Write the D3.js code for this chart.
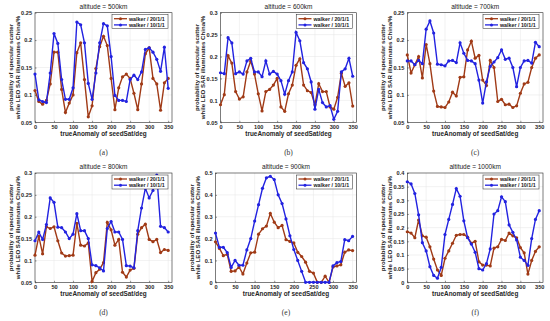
<!DOCTYPE html>
<html><head><meta charset="utf-8">
<script src="https://cdn.jsdelivr.net/npm/d3@7/dist/d3.min.js"></script>
<style>body{margin:0;background:#fff}svg{display:block}</style>
</head><body><svg id="c" width="550" height="321"></svg>
<script>
const trueAnomaly = [0,10,20,30,40,50,60,70,80,90,100,110,120,130,140,150,160,170,180,190,200,210,220,230,240,250,260,270,280,290,300,310,320,330,340,350];
const xTicks = [0,50,100,150,200,250,300,350];
const altitudes = ["500km","600km","700km","800km","900km","1000km"];
const panelLabels = ["(a)","(b)","(c)","(d)","(e)","(f)"];
const seriesNames = ["walker / 20/1/1","walker / 10/1/1"];

const w20_500 = [0.108,0.088,0.083,0.090,0.120,0.178,0.178,0.110,0.068,0.085,0.100,0.177,0.195,0.128,0.060,0.080,0.148,0.188,0.207,0.190,0.130,0.073,0.113,0.133,0.138,0.130,0.103,0.073,0.120,0.175,0.186,0.130,0.120,0.072,0.122,0.130];
const w10_500 = [0.138,0.091,0.088,0.086,0.140,0.212,0.194,0.128,0.092,0.092,0.113,0.233,0.228,0.195,0.121,0.092,0.140,0.195,0.230,0.226,0.170,0.099,0.090,0.090,0.088,0.128,0.136,0.128,0.142,0.183,0.186,0.178,0.165,0.143,0.187,0.112];

const w20_600 = [0.090,0.113,0.202,0.185,0.120,0.103,0.108,0.165,0.190,0.160,0.115,0.076,0.120,0.125,0.135,0.150,0.085,0.075,0.115,0.135,0.180,0.195,0.135,0.122,0.118,0.090,0.138,0.120,0.120,0.085,0.080,0.107,0.162,0.132,0.140,0.087];
const w10_600 = [0.163,0.161,0.243,0.231,0.161,0.165,0.160,0.190,0.196,0.165,0.165,0.154,0.190,0.160,0.166,0.160,0.145,0.114,0.145,0.165,0.255,0.236,0.186,0.172,0.142,0.080,0.125,0.095,0.085,0.088,0.057,0.075,0.165,0.172,0.196,0.155];

const w20_700 = [0.173,0.140,0.155,0.170,0.131,0.192,0.157,0.107,0.079,0.078,0.077,0.087,0.105,0.098,0.132,0.133,0.182,0.198,0.167,0.172,0.127,0.117,0.163,0.150,0.088,0.092,0.082,0.083,0.077,0.080,0.103,0.120,0.123,0.150,0.167,0.173];
const w10_700 = [0.162,0.162,0.155,0.163,0.157,0.220,0.235,0.213,0.156,0.155,0.153,0.162,0.163,0.159,0.195,0.176,0.163,0.162,0.157,0.127,0.085,0.124,0.152,0.160,0.168,0.182,0.165,0.167,0.150,0.115,0.150,0.162,0.163,0.158,0.196,0.188];

const w20_800 = [0.112,0.155,0.115,0.177,0.173,0.177,0.145,0.117,0.110,0.111,0.112,0.185,0.135,0.133,0.140,0.052,0.072,0.080,0.095,0.187,0.170,0.135,0.148,0.073,0.062,0.078,0.082,0.160,0.175,0.183,0.148,0.143,0.148,0.118,0.125,0.123];
const w10_800 = [0.145,0.165,0.148,0.182,0.243,0.233,0.176,0.175,0.165,0.150,0.160,0.207,0.168,0.168,0.150,0.090,0.088,0.083,0.076,0.173,0.189,0.165,0.165,0.148,0.088,0.087,0.083,0.168,0.220,0.265,0.243,0.260,0.295,0.178,0.175,0.165];

const w20_900 = [0.185,0.155,0.122,0.128,0.050,0.052,0.070,0.038,0.088,0.135,0.138,0.220,0.245,0.257,0.315,0.275,0.250,0.260,0.195,0.187,0.180,0.137,0.118,0.092,0.050,0.042,0.000,0.000,0.028,0.000,0.070,0.075,0.080,0.138,0.148,0.145];
const w10_900 = [0.225,0.160,0.160,0.136,0.068,0.100,0.078,0.078,0.148,0.200,0.280,0.355,0.430,0.478,0.485,0.470,0.400,0.360,0.290,0.213,0.150,0.100,0.050,0.000,0.000,0.000,0.000,0.000,0.000,0.000,0.075,0.090,0.095,0.195,0.190,0.210];

const w20_1000 = [0.185,0.180,0.163,0.228,0.170,0.165,0.130,0.085,0.045,0.025,0.088,0.115,0.143,0.172,0.175,0.175,0.165,0.143,0.150,0.075,0.063,0.063,0.060,0.125,0.130,0.157,0.153,0.180,0.170,0.163,0.127,0.108,0.030,0.080,0.113,0.130];
const w10_1000 = [0.368,0.360,0.325,0.247,0.145,0.115,0.057,0.025,0.015,0.055,0.175,0.230,0.285,0.343,0.315,0.225,0.163,0.140,0.110,0.050,0.045,0.068,0.122,0.250,0.262,0.313,0.295,0.210,0.183,0.155,0.092,0.080,0.062,0.160,0.230,0.262];

const yTicks500 = [0.05,0.1,0.15,0.2,0.25];
const yTicks600 = [0.05,0.1,0.15,0.2,0.25,0.3];
const yTicks700 = [0.05,0.1,0.15,0.2,0.25];
const yTicks800 = [0.05,0.1,0.15,0.2,0.25,0.3];
const yTicks900 = [0,0.1,0.2,0.3,0.4,0.5];
const yTicks1000 = [0,0.05,0.1,0.15,0.2,0.25,0.3,0.35,0.4];

const series20 = [w20_500,w20_600,w20_700,w20_800,w20_900,w20_1000];
const series10 = [w10_500,w10_600,w10_700,w10_800,w10_900,w10_1000];
const yTicksAll = [yTicks500,yTicks600,yTicks700,yTicks800,yTicks900,yTicks1000];

const boxes = [
  {l:35, r:172, t:12.7, b:122.3},
  {l:220.5, r:356.5, t:12.7, b:122.3},
  {l:407.3, r:543, t:12.7, b:122.3},
  {l:35, r:172, t:173, b:282.3},
  {l:215.5, r:356.5, t:173, b:282.3},
  {l:407.3, r:543, t:173, b:282.3}
];
const colBrown = "#a03a16";
const colBlue = "#2222e0";
const axisCol = "#262626";
const sans = "'Liberation Sans', Arial, sans-serif";

const svg = d3.select("#c");
svg.append("rect").attr("width",550).attr("height",321).attr("fill","#fff");

boxes.forEach((bx,i)=>{
  const g = svg.append("g");
  const ticks = yTicksAll[i];
  const x = d3.scaleLinear().domain([0,360]).range([bx.l,bx.r]);
  const y = d3.scaleLinear().domain([ticks[0],ticks[ticks.length-1]]).range([bx.b,bx.t]);
  g.append("g").selectAll("line").data(xTicks.slice(1)).join("line")
    .attr("x1",d=>x(d)).attr("x2",d=>x(d)).attr("y1",bx.t).attr("y2",bx.b)
    .attr("stroke","#e4e4e4").attr("stroke-width",0.5);
  g.append("g").selectAll("line").data(ticks.slice(1,-1)).join("line")
    .attr("y1",d=>y(d)).attr("y2",d=>y(d)).attr("x1",bx.l).attr("x2",bx.r)
    .attr("stroke","#e4e4e4").attr("stroke-width",0.5);
  const xa = g.append("g").attr("transform",`translate(0,${bx.b})`)
    .call(d3.axisBottom(x).tickValues(xTicks).tickSizeInner(-1.5).tickSizeOuter(0).tickPadding(3).tickFormat(d=>String(d)));
  const ya = g.append("g").attr("transform",`translate(${bx.l},0)`)
    .call(d3.axisLeft(y).tickValues(ticks).tickSizeInner(-1.5).tickSizeOuter(0).tickPadding(3).tickFormat(d=>String(d)));
  [xa,ya].forEach(a=>{
    a.select(".domain").remove();
    a.selectAll("line").attr("stroke",axisCol).attr("stroke-width",0.5);
    a.selectAll("text").attr("font-family",sans).attr("font-size",5.6).attr("font-weight","bold").attr("fill",axisCol);
  });
  g.append("rect").attr("x",bx.l).attr("y",bx.t).attr("width",bx.r-bx.l).attr("height",bx.b-bx.t)
    .attr("fill","none").attr("stroke",axisCol).attr("stroke-width",0.6);
  const line = d3.line().x((d,k)=>x(trueAnomaly[k])).y(d=>y(d));
  [[series20[i],colBrown],[series10[i],colBlue]].forEach(([arr,c])=>{
    g.append("path").datum(arr).attr("d",line).attr("fill","none").attr("stroke",c).attr("stroke-width",1.4);
    g.append("g").selectAll("circle").data(arr).join("circle")
      .attr("cx",(d,k)=>x(trueAnomaly[k])).attr("cy",d=>y(d)).attr("r",1.6).attr("fill",c);
  });
  g.append("text").attr("x",(bx.l+bx.r)/2).attr("y",bx.t-4).attr("text-anchor","middle")
    .attr("font-family",sans).attr("font-size",6.5).attr("fill","#222").text("altitude = "+altitudes[i]);
  g.append("text").attr("x",(bx.l+bx.r)/2).attr("y",bx.b+14).attr("text-anchor","middle")
    .attr("font-family",sans).attr("font-size",6.4).attr("font-weight","bold").attr("fill",axisCol).text("trueAnomaly of seedSat/deg");
  const yl = g.append("text").attr("transform",`translate(${bx.l-22},${(bx.t+bx.b)/2}) rotate(-90)`)
    .attr("text-anchor","middle").attr("font-family",sans).attr("font-size",6.1).attr("font-weight","bold").attr("fill",axisCol);
  yl.append("tspan").attr("x",0).attr("dy",0).text("probability of specular scatter");
  yl.append("tspan").attr("x",0).attr("dy",6.6).text("while LEO SAR illuminates China/%");
  const lx = bx.r-60, ly = bx.t+2;
  g.append("rect").attr("x",lx).attr("y",ly).attr("width",56).attr("height",14).attr("fill","#fff").attr("stroke",axisCol).attr("stroke-width",0.5);
  [colBrown,colBlue].forEach((c,k)=>{
    const yy = ly+4+k*6.2;
    g.append("line").attr("x1",lx+2).attr("x2",lx+15).attr("y1",yy).attr("y2",yy).attr("stroke",c).attr("stroke-width",1.3);
    g.append("circle").attr("cx",lx+8.5).attr("cy",yy).attr("r",1.5).attr("fill",c);
    g.append("text").attr("x",lx+17).attr("y",yy+1.9).attr("font-family",sans).attr("font-size",5.3).attr("font-weight","bold").attr("fill","#222").text(seriesNames[k]);
  });
  svg.append("text").attr("x",(bx.l+bx.r)/2).attr("y",bx.b+32.5).attr("text-anchor","middle")
    .attr("font-family","'Liberation Serif', 'Times New Roman', serif").attr("font-size",7.5).attr("fill","#333").text(panelLabels[i]);
});
</script></body></html>
